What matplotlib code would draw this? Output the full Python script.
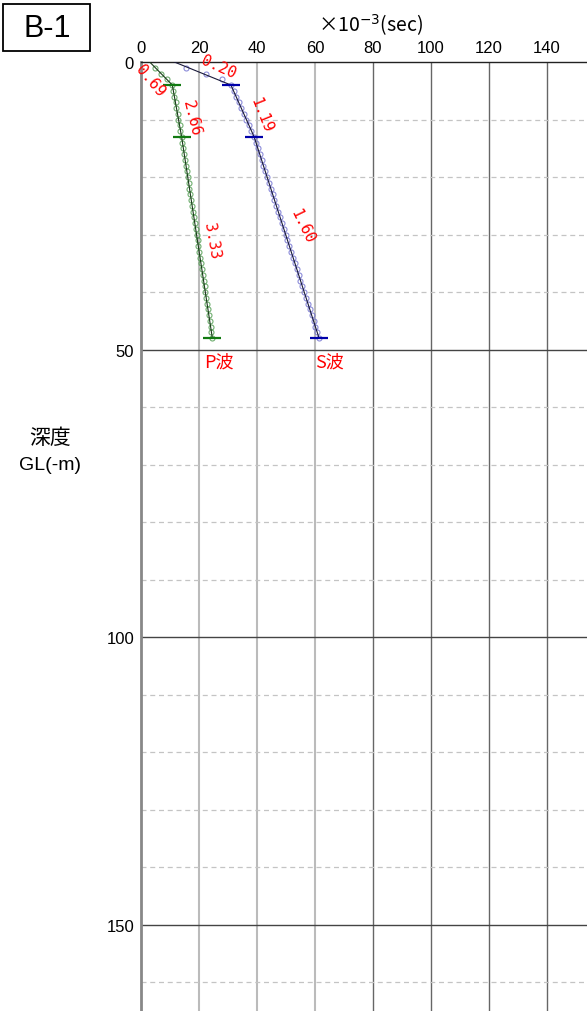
import matplotlib
matplotlib.use('Agg')
import matplotlib.pyplot as plt
from matplotlib.patches import Rectangle

plt.rcParams['font.family'] = ['Noto Sans CJK JP', 'DejaVu Sans']

# layer boundaries (m) and fitted travel times (x10^-3 sec)
layer_depth = [0, 4, 13, 48]
p_fit_time = [3.0, 10.8, 14.0, 24.6]
s_fit_time = [11.5, 31.0, 39.0, 61.4]

# observed travel times
obs_depth = list(range(1, 49))
p_obs = [5.0, 7.0, 8.8, 10.8, 11.2, 11.5, 11.9, 12.2, 12.6, 12.9, 13.3, 13.6,
         14.0, 14.3, 14.6, 14.9, 15.2, 15.5, 15.8, 16.1, 16.4, 16.7, 17.0, 17.3,
         17.6, 17.9, 18.2, 18.5, 18.8, 19.2, 19.5, 19.8, 20.1, 20.4, 20.7, 21.0,
         21.3, 21.6, 21.9, 22.2, 22.5, 22.8, 23.1, 23.4, 23.7, 24.0, 24.3, 24.6]
s_obs = [15.5, 22.5, 27.8, 31.0, 31.9, 32.8, 33.7, 34.6, 35.4, 36.3, 37.2, 38.1,
         39.0, 39.6, 40.3, 40.9, 41.6, 42.2, 42.8, 43.5, 44.1, 44.8, 45.4, 46.0,
         46.7, 47.3, 48.0, 48.6, 49.2, 49.9, 50.5, 51.2, 51.8, 52.4, 53.1, 53.7,
         54.4, 55.0, 55.6, 56.3, 56.9, 57.6, 58.2, 58.8, 59.5, 60.1, 60.8, 61.4]

# velocity labels (km/s): text, x, depth, rotation
p_vel = ['0.69', '2.66', '3.33']
s_vel = ['0.20', '1.19', '1.60']
p_vel_pos = [(3.0, 3.1, -50), (17.5, 9.6, -76), (24.5, 31.0, -80)]
s_vel_pos = [(26.8, 0.8, -24), (41.5, 9.0, -68), (55.5, 28.5, -64)]

fig = plt.figure(figsize=(5.87, 10.12), dpi=100)
ax = fig.add_axes([141 / 587, 0.0, 1 - 141 / 587, 1 - 63 / 1012])
ax.set_xlim(0, 153.8)
ax.set_ylim(165, 0)

# grid
for x in range(20, 160, 20):
    if x <= 60:
        ax.axvline(x, color='#bbbbbb', lw=1.5, zorder=1)
    else:
        ax.axvline(x, color='#666666', lw=1.0, zorder=1)
for y in range(10, 170, 10):
    if y % 50 == 0:
        ax.axhline(y, color='#444444', lw=1.0, zorder=1)
    else:
        ax.axhline(y, color='#c4c4c4', lw=0.9, ls=(0, (4, 3)), zorder=1)

for s in ['right', 'bottom']:
    ax.spines[s].set_visible(False)
ax.spines['left'].set_color('#888888')
ax.spines['left'].set_linewidth(2)
ax.spines['top'].set_color('#222222')
ax.spines['top'].set_linewidth(1)

ax.xaxis.tick_top()
ax.set_xticks(range(0, 160, 20))
ax.set_yticks([0, 50, 100, 150])
ax.tick_params(length=0, pad=5)
for lab in ax.get_xticklabels() + ax.get_yticklabels():
    lab.set_family(['Liberation Sans', 'DejaVu Sans'])
    lab.set_fontsize(12)

# observed points
ax.plot(p_obs, obs_depth, 'o', ms=3.6, mfc='none', mec='#4c9a4c', mew=0.8, alpha=0.8, zorder=3)
ax.plot(s_obs, obs_depth, 'o', ms=3.6, mfc='none', mec='#6f6fd0', mew=0.8, alpha=0.8, zorder=3)

# fitted lines
ax.plot(p_fit_time, layer_depth, color='#1a3a1a', lw=0.8, zorder=4)
ax.plot(s_fit_time, layer_depth, color='#1a1a3a', lw=0.8, zorder=4)
ax.plot(p_fit_time[1:], layer_depth[1:], ls='none', marker='_', ms=13, mew=1.6, color='#117a11', zorder=5)
ax.plot(s_fit_time[1:], layer_depth[1:], ls='none', marker='_', ms=13, mew=1.6, color='#0000aa', zorder=5)

for txt, (x, y, r) in zip(p_vel + s_vel, p_vel_pos + s_vel_pos):
    ax.text(x, y, txt, color='red', fontsize=11, rotation=r, ha='center', va='center',
            family=['DejaVu Sans Mono'], rotation_mode='anchor', zorder=6)

ax.text(27.0, 52.0, 'P波', color='red', fontsize=13, ha='center', va='center')
ax.text(65.0, 52.0, 'S波', color='red', fontsize=13, ha='center', va='center')

fig.text(371 / 587, 1 - 25 / 1012, r'×10$^{-3}$(sec)', fontsize=14, ha='center', va='center')
fig.patches.append(Rectangle((3 / 587, 1 - 52 / 1012), 87 / 587, 47 / 1012,
                             transform=fig.transFigure, fc='white', ec='black', lw=1.3))
fig.text(47 / 587, 1 - 29 / 1012, 'B-1', fontsize=22, ha='center', va='center',
         family=['Liberation Sans', 'DejaVu Sans'])
fig.text(50 / 587, 1 - 438 / 1012, '深度', fontsize=15, ha='center', va='center')
fig.text(50 / 587, 1 - 466 / 1012, 'GL(-m)', fontsize=14, ha='center', va='center',
         family=['Liberation Sans', 'DejaVu Sans'])

fig.savefig('out.png', dpi=100)
